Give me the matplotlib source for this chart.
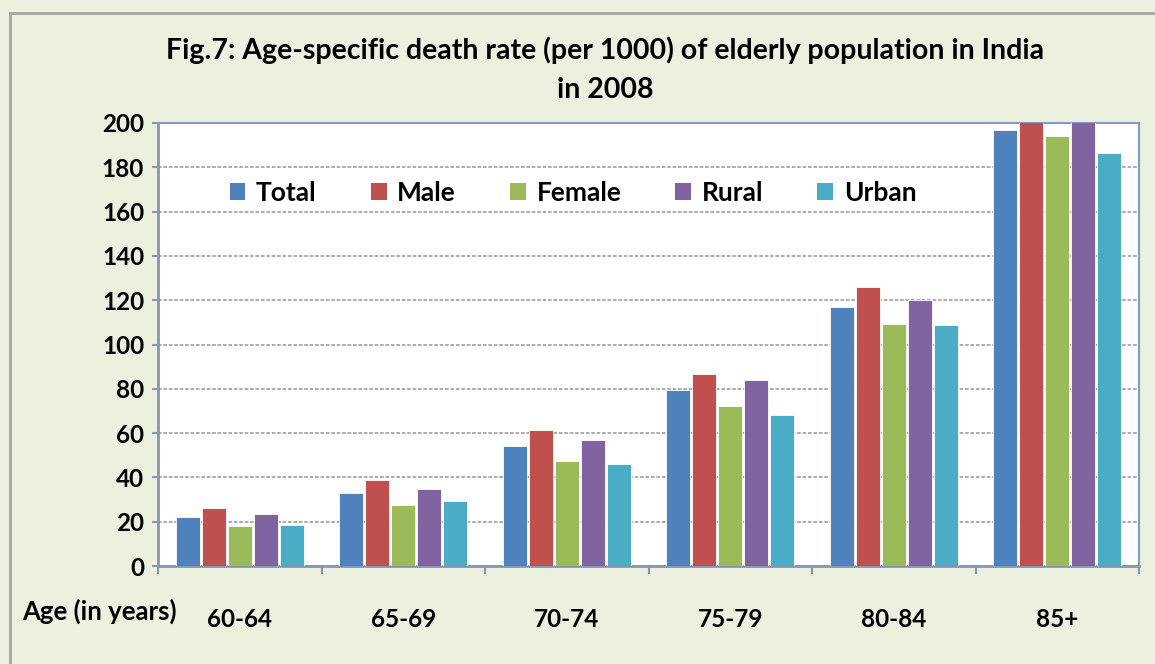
import matplotlib
matplotlib.use("Agg")
import matplotlib.pyplot as plt
import numpy as np
from matplotlib.patches import Patch, Rectangle

categories = ["60-64", "65-69", "70-74", "75-79", "80-84", "85+"]
series_names = ["Total", "Male", "Female", "Rural", "Urban"]
total = [22.3, 33.0, 54.0, 79.5, 117.0, 197.0]
male = [26.2, 39.0, 61.4, 86.7, 125.8, 210.0]
female = [18.0, 27.4, 47.3, 72.3, 109.4, 194.0]
rural = [23.6, 34.9, 57.0, 84.0, 120.0, 206.0]
urban = [18.4, 29.4, 46.2, 68.0, 109.0, 186.5]
yticks = [0, 20, 40, 60, 80, 100, 120, 140, 160, 180, 200]
title = "Fig.7: Age-specific death rate (per 1000) of elderly population in India\nin 2008"
xlabel = "Age (in years)"

series = [total, male, female, rural, urban]
colors = ["#4F81BD", "#C0504D", "#9BBB59", "#8064A2", "#4BACC6"]
bg = "#EBF1DE"

plt.rcParams["font.family"] = ["Lato", "DejaVu Sans"]
plt.rcParams["font.weight"] = "bold"

W, H = 1155, 664
fig = plt.figure(figsize=(W / 100, H / 100), dpi=100)
fig.patch.set_facecolor(bg)

# outer chart frame (left/top visible)
fig.patches.append(Rectangle((10 / W, -0.1), 1.2, 1 - 13 / H + 0.1, transform=fig.transFigure,
                             fill=False, edgecolor="#A6A6A6", linewidth=2))

ax = fig.add_axes([158 / W, 1 - 566 / H, (1139 - 158) / W, (566 - 123) / H])
ax.set_facecolor("white")

x = np.arange(len(categories))
step = 0.159
width = 0.145
for i, (vals, c) in enumerate(zip(series, colors)):
    ax.bar(x + (i - 2) * step, vals, width=width, color=c, edgecolor="white",
           linewidth=0.6, label=series_names[i], zorder=3)

ax.set_xlim(-0.5, len(categories) - 0.5)
ax.set_ylim(0, 200)
ax.set_yticks(yticks)
ax.set_yticklabels([str(v) for v in yticks], fontsize=17.5, fontweight="bold")
ax.set_xticks(x)
ax.set_xticklabels(categories, fontsize=17.5, fontweight="bold")
ax.set_xticks(np.arange(-0.5, len(categories), 1.0), minor=True)
ax.tick_params(axis="x", which="major", length=0, pad=30)
ax.tick_params(axis="x", which="minor", length=6, width=1.5, color="#8496B0", direction="out")
ax.tick_params(axis="y", which="major", length=4, width=1.5, color="#8496B0", pad=6)

ax.grid(axis="y", linestyle=(0, (2, 1)), color="#A6A6A6", linewidth=1.3, zorder=0)
ax.set_axisbelow(True)

for s in ["left", "bottom"]:
    ax.spines[s].set_color("#8496B0")
    ax.spines[s].set_linewidth(2)
for s in ["top", "right"]:
    ax.spines[s].set_color("#7F9CC9")
    ax.spines[s].set_linewidth(1.5)

fig.text(99 / W, 1 - 611 / H, xlabel, ha="center", va="center", fontsize=18.5, fontweight="bold")

fig.text(605 / W, 1 - 36 / H, title, ha="center", va="top", fontsize=20.5, fontweight="bold",
         linespacing=1.62)

handles = [Patch(facecolor=c, edgecolor="none") for c in colors]
leg = ax.legend(handles, series_names, ncol=5, frameon=False, loc="center",
                bbox_to_anchor=((573 - 158) / 981, (566 - 193) / 443),
                prop={"size": 19, "weight": "bold"}, handlelength=0.6, handleheight=0.6,
                handletextpad=0.4, columnspacing=2.05)

fig.savefig("out.png", dpi=100, facecolor=bg)
